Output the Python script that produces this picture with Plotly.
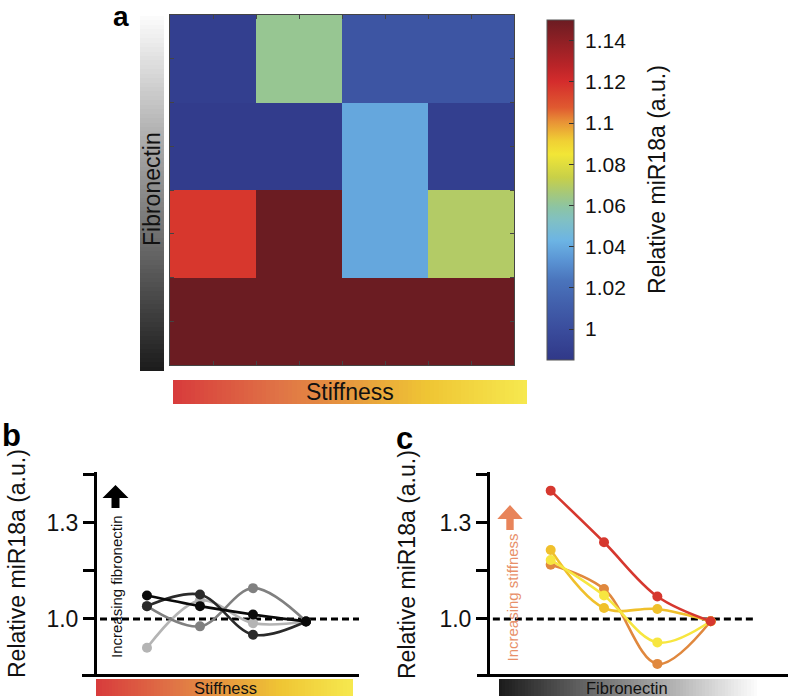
import numpy as np
import plotly.graph_objects as go

W, H = 788, 697
FONT = "Liberation Sans, Arial, Helvetica, sans-serif"

# ---------------- data ----------------
# panel a: heatmap rows listed bottom -> top, columns = stiffness levels
heat_cols = [0, 1, 2, 3]
heat_rows = [0, 1, 2, 3]
heat_row0 = [1.150, 1.150, 1.150, 1.150]   # bottom row
heat_row1 = [1.117, 1.150, 1.039, 1.069]
heat_row2 = [0.988, 0.988, 1.039, 0.990]
heat_row3 = [0.990, 1.062, 1.005, 1.005]   # top row
z_min, z_max = 0.985, 1.150
cbar_tickvals = [1.0, 1.02, 1.04, 1.06, 1.08, 1.1, 1.12, 1.14]
cbar_ticktext = ["1", "1.02", "1.04", "1.06", "1.08", "1.1", "1.12", "1.14"]

# panel b: miR18a vs stiffness for four fibronectin levels
levels = [1, 2, 3, 4]
b_light = [0.910, 1.058, 0.987, 0.992]
b_gray = [1.040, 0.977, 1.096, 0.992]
b_dark = [1.040, 1.076, 0.951, 0.992]
b_black = [1.073, 1.040, 1.014, 0.992]

# panel c: miR18a vs fibronectin for four stiffness levels
c_red = [1.400, 1.239, 1.070, 0.993]
c_orange = [1.169, 1.093, 0.860, 0.993]
c_gold = [1.215, 1.034, 1.031, 0.993]
c_yellow = [1.184, 1.073, 0.927, 0.993]

y_tickvals = [1.0, 1.15, 1.3, 1.45]
y_ticktext = ["1.0", "", "1.3", ""]

# ---------------- helpers ----------------
def px(x):
    return x / W


def py(y):
    return 1 - y / H


heat_cs = [
    [0.000, "#303888"], [0.088, "#3a4c9c"], [0.166, "#4260ac"], [0.234, "#4a74bc"],
    [0.293, "#5a94d4"], [0.351, "#6cb4e4"], [0.410, "#80c0c4"], [0.449, "#8cc4a4"],
    [0.488, "#a4c87c"], [0.537, "#c8d048"], [0.605, "#f2e636"], [0.644, "#f0d034"],
    [0.702, "#e89036"], [0.742, "#e05a30"], [0.819, "#d42c2c"], [0.868, "#b82428"],
    [1.000, "#6b1c22"],
]
stiff_cs = [[0, "#d83c3c"], [0.3, "#e07446"], [0.5, "#e6983e"], [0.72, "#efc534"], [1, "#f6e84e"]]
fib_dark_light = [[0, "#1c1c1c"], [0.5, "#8a8a8a"], [1, "#fbfbfb"]]

fig = go.Figure()

# heatmap (panel a)
fig.add_trace(go.Heatmap(
    z=[heat_row0, heat_row1, heat_row2, heat_row3], x=heat_cols, y=heat_rows,
    zmin=z_min, zmax=z_max, colorscale=heat_cs, xaxis="x", yaxis="y",
    hoverinfo="skip",
    colorbar=dict(
        x=px(547), xanchor="left", xpad=0, ypad=0,
        y=py(190), yanchor="middle", len=340 / H, lenmode="fraction",
        thickness=27, thicknessmode="pixels",
        outlinewidth=1, outlinecolor="#555",
        tickvals=cbar_tickvals, ticktext=["\u00a0" + t for t in cbar_ticktext],
        ticks="inside", ticklen=5, tickwidth=1, tickcolor="#333",
        tickfont=dict(family=FONT, size=21, color="#111"),
    ),
))

# gradient bars
grad = np.linspace(0, 1, 80)
fig.add_trace(go.Heatmap(z=[[v] for v in grad], colorscale=fib_dark_light, showscale=False,
                         xaxis="x4", yaxis="y4", hoverinfo="skip"))
fig.add_trace(go.Heatmap(z=[grad], colorscale=stiff_cs, showscale=False,
                         xaxis="x5", yaxis="y5", hoverinfo="skip"))
fig.add_trace(go.Heatmap(z=[grad], colorscale=stiff_cs, showscale=False,
                         xaxis="x6", yaxis="y6", hoverinfo="skip"))
fig.add_trace(go.Heatmap(z=[grad], colorscale=fib_dark_light, showscale=False,
                         xaxis="x7", yaxis="y7", hoverinfo="skip"))

# panel b lines
for vals, col in [(b_light, "#b4b4b4"), (b_gray, "#808080"), (b_dark, "#2a2a2a"), (b_black, "#0a0a0a")]:
    fig.add_trace(go.Scatter(
        x=levels, y=vals, mode="lines+markers", xaxis="x2", yaxis="y2",
        line=dict(color=col, width=2.6, shape="spline", smoothing=1),
        marker=dict(color=col, size=10), hoverinfo="skip", cliponaxis=False))

# panel c lines
for vals, col in [(c_orange, "#e0883e"), (c_gold, "#f0c02c"), (c_yellow, "#f7e640"), (c_red, "#d6382f")]:
    fig.add_trace(go.Scatter(
        x=levels, y=vals, mode="lines+markers", xaxis="x3", yaxis="y3",
        line=dict(color=col, width=2.6, shape="spline", smoothing=1),
        marker=dict(color=col, size=10), hoverinfo="skip", cliponaxis=False))

hidden = dict(visible=False, showgrid=False, zeroline=False, fixedrange=True)

y_rng = [0.830, 1.459]
b_dom_y = [py(673.5), py(471.7)]

layout_axes = dict(
    xaxis=dict(domain=[px(170), px(514)], range=[-0.5, 3.5], showticklabels=False,
               tickvals=[0, 0.5, 1, 1.5, 2, 2.5, 3], ticks="inside", ticklen=4, tickcolor="#444",
               showline=True, linecolor="#444", linewidth=1, mirror="ticks",
               showgrid=False, zeroline=False, anchor="y"),
    yaxis=dict(domain=[py(365), py(15)], range=[-0.5, 3.5], showticklabels=False,
               tickvals=[0, 0.5, 1, 1.5, 2, 2.5, 3], ticks="inside", ticklen=4, tickcolor="#444",
               showline=True, linecolor="#444", linewidth=1, mirror="ticks",
               showgrid=False, zeroline=False, anchor="x"),
    xaxis2=dict(domain=[px(82), px(359)], range=[-0.226, 5.0], anchor="y2",
                showline=True, linecolor="black", linewidth=3, ticks="",
                showticklabels=False, showgrid=False, zeroline=False),
    yaxis2=dict(domain=b_dom_y, range=y_rng, anchor="free", position=px(95),
                showline=True, linecolor="black", linewidth=3,
                tickvals=y_tickvals, ticktext=y_ticktext, ticks="outside", ticklen=11,
                tickwidth=3, tickcolor="black",
                tickfont=dict(family=FONT, size=23, color="#111"),
                showgrid=False, zeroline=False),
    xaxis3=dict(domain=[px(477), 1.0], range=[-0.382, 5.45], anchor="y3",
                showline=True, linecolor="black", linewidth=3, ticks="",
                showticklabels=False, showgrid=False, zeroline=False),
    yaxis3=dict(domain=b_dom_y, range=y_rng, anchor="free", position=px(488),
                showline=True, linecolor="black", linewidth=3,
                tickvals=y_tickvals, ticktext=y_ticktext, ticks="outside", ticklen=11,
                tickwidth=3, tickcolor="black",
                tickfont=dict(family=FONT, size=23, color="#111"),
                showgrid=False, zeroline=False),
    xaxis4=dict(domain=[px(140), px(164)], anchor="y4", **hidden),
    yaxis4=dict(domain=[py(371), py(16)], anchor="x4", **hidden),
    xaxis5=dict(domain=[px(173), px(527)], anchor="y5", **hidden),
    yaxis5=dict(domain=[py(404), py(380)], anchor="x5", **hidden),
    xaxis6=dict(domain=[px(96), px(353)], anchor="y6", **hidden),
    yaxis6=dict(domain=[py(696), py(679)], anchor="x6", **hidden),
    xaxis7=dict(domain=[px(499), px(757)], anchor="y7", **hidden),
    yaxis7=dict(domain=[py(696), py(679)], anchor="x7", **hidden),
)


def arrow_path(cx, tip, head_base, bottom, head_half, shaft_half):
    pts = [(cx, tip), (cx + head_half, head_base), (cx + shaft_half, head_base),
           (cx + shaft_half, bottom), (cx - shaft_half, bottom), (cx - shaft_half, head_base),
           (cx - head_half, head_base)]
    return "M " + " L ".join(f"{px(x):.5f},{py(y):.5f}" for x, y in pts) + " Z"


shapes = [
    dict(type="line", xref="x2 domain", yref="y2", x0=0.065, x1=1.0, y0=1.0, y1=1.0,
         line=dict(color="black", width=3, dash="7px,4px"), layer="below"),
    dict(type="line", xref="x3 domain", yref="y3", x0=0.051, x1=0.887, y0=1.0, y1=1.0,
         line=dict(color="black", width=3, dash="7px,4px"), layer="below"),
    dict(type="path", xref="paper", yref="paper",
         path=arrow_path(115.5, 485, 498, 508, 13, 4), fillcolor="black", line=dict(width=0)),
    dict(type="path", xref="paper", yref="paper",
         path=arrow_path(510, 505, 519, 530, 12.7, 3.7), fillcolor="#e8845a", line=dict(width=0)),
]


def ann(text, x, y, size, color="#111", angle=0, bold=False, xanchor="center", yanchor="middle"):
    t = f"<b>{text}</b>" if bold else text
    return dict(text=t, x=px(x), y=py(y), xref="paper", yref="paper", showarrow=False,
                textangle=angle, xanchor=xanchor, yanchor=yanchor, borderpad=0,
                font=dict(family=FONT, size=size, color=color))


annotations = [
    ann("a", 121, 0, 28, "black", bold=True, yanchor="top"),
    ann("b", 11, 436, 31, "black", bold=True),
    ann("c", 404, 438, 31, "black", bold=True),
    ann("Fibronectin", 152, 189, 23, "#111", angle=-90),
    ann("Stiffness", 350, 392, 23, "#111"),
    ann("Relative miR18a (a.u.)", 657, 180, 23, "#111", angle=-90),
    ann("Relative miR18a (a.u.)", 17, 564, 23, "#111", angle=-90),
    ann("Relative miR18a (a.u.)", 407, 565, 23, "#111", angle=-90),
    ann("Increasing fibronectin", 116, 587, 15, "#111", angle=-90),
    ann("Increasing stiffness", 511.5, 598, 15, "#e8906a", angle=-90),
    ann("Stiffness", 225, 687.5, 16.5, "#111"),
    ann("Fibronectin", 627, 687.5, 16.5, "#111"),
]

fig.update_layout(
    width=W, height=H, margin=dict(l=0, r=0, t=0, b=0),
    paper_bgcolor="white", plot_bgcolor="white", showlegend=False,
    font=dict(family=FONT, color="#111"),
    shapes=shapes, annotations=annotations, **layout_axes,
)

fig.write_html("out.html", config={"displayModeBar": False, "staticPlot": True},
               post_script="document.body.style.margin='0';document.body.style.overflow='hidden';")
